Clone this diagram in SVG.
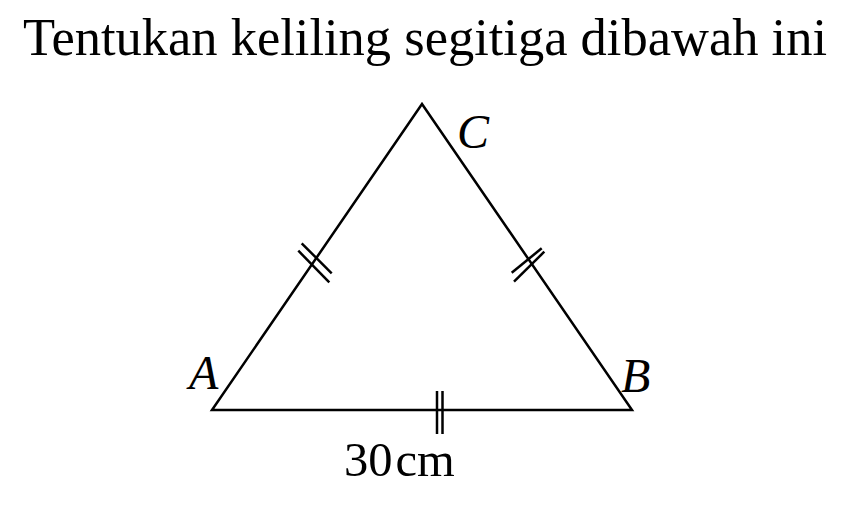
<svg xmlns="http://www.w3.org/2000/svg" width="855" height="505" viewBox="0 0 855 505">
<style>
.ln{stroke:#000;stroke-width:2.5;fill:none;stroke-linecap:butt;stroke-linejoin:miter}
.tk{stroke:#000;stroke-width:2.5;fill:none}
.t{font-family:"Liberation Serif","Times New Roman",serif;fill:#000}
.lab{font-family:"Liberation Serif","Times New Roman",serif;font-style:italic;font-size:48px;fill:#000}
</style>
<rect width="855" height="505" fill="#fff"/>
<text class="t" x="23" y="54.5" font-size="52" textLength="804" lengthAdjust="spacingAndGlyphs">Tentukan keliling segitiga dibawah ini</text>
<g id="triangle">
<path class="ln" d="M212,410 L422,104 L632,410 Z"/>
</g>
<g id="connectors">
<line class="tk" x1="301.7" y1="243.3" x2="331.7" y2="273.3"/>
<line class="tk" x1="298.3" y1="250.7" x2="329.3" y2="282.3"/>
<line class="tk" x1="541.7" y1="248.3" x2="511.7" y2="272.7"/>
<line class="tk" x1="544.3" y1="251.7" x2="514" y2="281.7"/>
<line class="tk" x1="437" y1="391" x2="437" y2="434"/>
<line class="tk" x1="442.5" y1="391" x2="442.5" y2="434"/>
</g>
<g id="A"><text class="lab" x="189" y="389">A</text></g>
<g id="B"><text class="lab" x="621" y="392">B</text></g>
<g id="C"><text class="lab" x="457" y="148">C</text></g>
<g id="label-base"><text class="t" x="344" y="475.5" font-size="48.5">30<tspan dx="3">cm</tspan></text></g>
</svg>
